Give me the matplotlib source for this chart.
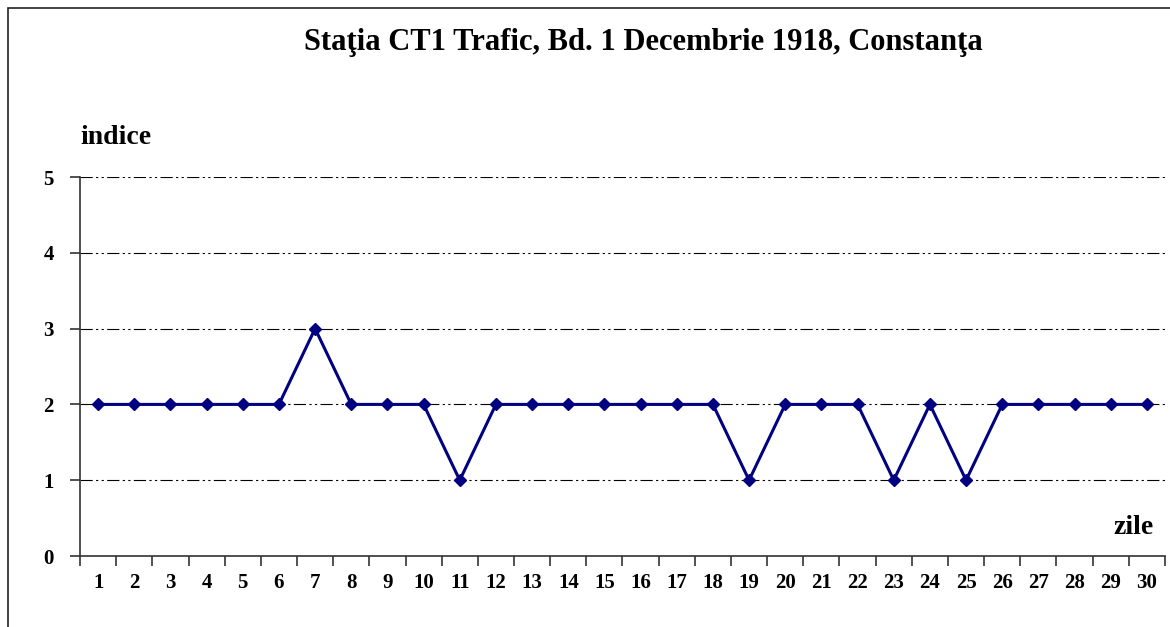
import matplotlib.pyplot as plt
import matplotlib.patches as patches

zile = list(range(1, 31))
indice = [2, 2, 2, 2, 2, 2, 3, 2, 2, 2, 1, 2, 2, 2, 2, 2, 2, 2, 1, 2,
          2, 2, 1, 2, 1, 2, 2, 2, 2, 2]
titlu = "Staţia CT1 Trafic, Bd. 1 Decembrie 1918, Constanţa"

plt.rcParams['font.family'] = ['Liberation Serif', 'DejaVu Serif']
plt.rcParams['font.weight'] = 'bold'

fig = plt.figure(figsize=(11.7, 6.27), dpi=100)
ax = fig.add_axes([0.0684, 0.1132, 0.9273, 0.6045])

# chenar in jurul graficului
fig.patches.append(patches.Rectangle((0.0068, -0.1), 2, 1.087, transform=fig.transFigure,
                                     fill=False, edgecolor='#222222', lw=1.2, clip_on=False))

x = list(range(len(zile)))
ax.plot(x, indice, color='#000080', lw=2.2, marker='D', markersize=6, zorder=3)

ax.set_xlim(-0.5, len(zile) - 0.5)
ax.set_ylim(0, 5)
ax.set_yticks(range(0, 6))
ax.set_xticks(x)
ax.set_xticklabels([str(z) for z in zile])
ax.set_xticks([i - 0.5 for i in range(len(zile) + 1)], minor=True)
ax.tick_params(axis='x', which='major', length=0, labelsize=15, pad=12)
ax.tick_params(axis='x', which='minor', length=7, width=1.2, color='#333333')
ax.tick_params(axis='y', length=7, width=1.2, color='#333333', labelsize=15, pad=12)

for v in range(1, 6):
    ax.axhline(v, color='black', lw=0.8, linestyle=(0, (11, 3, 2, 3, 2, 3)), zorder=1)

for s in ['top', 'right']:
    ax.spines[s].set_visible(False)
for s in ['left', 'bottom']:
    ax.spines[s].set_linewidth(1.2)
    ax.spines[s].set_color('#333333')

fig.text(0.55, 0.932, titlu, ha='center', va='center', fontsize=22, fontweight='bold')
fig.text(0.0684, 0.781, "indice", ha='left', va='center', fontsize=20, fontweight='bold')
fig.text(0.986, 0.158, "zile", ha='right', va='center', fontsize=20, fontweight='bold')

fig.savefig('out.png', dpi=100)
